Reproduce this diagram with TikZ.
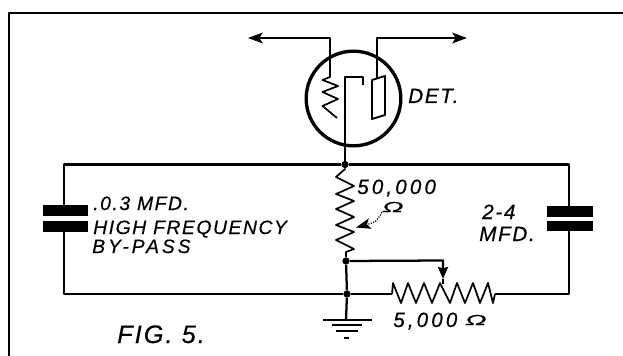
\documentclass[tikz,border=0pt]{standalone}
\usepackage{fontspec}
\usepackage{graphicx}
\setmainfont{Liberation Sans}
\newfontfamily\drawfont[LetterSpace=8,FakeBold=0.4]{Liberation Sans}
\newfontfamily\widefont[LetterSpace=15,FakeBold=0.4]{Liberation Sans}
\usetikzlibrary{arrows.meta}
\tikzset{
  px/.style={x=0.75pt,y=-0.75pt},
  wire/.style={line width=1.7pt,line join=round},
  thin wire/.style={line width=1.3pt,line join=round},
  plate/.style={fill=black,draw=none,minimum width=34pt,minimum height=8.2pt,inner sep=0pt},
  dot/.style={circle,fill=black,draw=none,minimum size=5.5pt,inner sep=0pt},
  lab/.style={inner sep=0pt,font=\drawfont\itshape\fontsize{14.5}{16}\selectfont,align=left,text=black},
  widelab/.style={lab,font=\widefont\itshape\fontsize{14.5}{16}\selectfont},
  numlab/.style={lab,font=\widefont\itshape\fontsize{15.5}{17}\selectfont},
  biglab/.style={lab,font=\drawfont\itshape\fontsize{15.5}{17}\selectfont},
  ohmlab/.style={lab,font=\drawfont\itshape\fontsize{15}{17}\selectfont},
  arrow/.style={-{Stealth[length=11pt,width=8pt,inset=2.5pt]}}
}
\newcommand{\ohmsign}{\scalebox{1.4}[0.72]{Ω}}
\begin{document}
\begin{tikzpicture}[px]
\useasboundingbox (0,0) rectangle (623,356);
\fill[white] (0,0) rectangle (623,356);
% frame
\coordinate (fbl) at (9,356); \coordinate (ftl) at (9,13); \coordinate (ftr) at (623,13);
\draw[line width=1.9pt,line join=round] (fbl) -- (ftl) -- (ftr);
% rectangle loop
\coordinate (tl) at (64,164.5); \coordinate (tr) at (569,164.5);
\coordinate (bl) at (64,294); \coordinate (br) at (569,294);
\node[plate] (c1a) at (65.5,210.5) {};
\node[plate] (c1b) at (65.5,226.5) {};
\node[plate] (c2a) at (570,211.5) {};
\node[plate] (c2b) at (570,226) {};
\node[dot] (top) at (345,164.5) {};
\node[dot] (mid) at (346,261) {};
\node[dot] (low) at (347,294) {};
\coordinate (r2l) at (392,294); \coordinate (r2r) at (495,294);
\draw[wire] (64,210) -- (tl) -- (top) -- (tr) -- (569,210);
\draw[wire] (64,226) -- (bl) -- (low) -- (r2l);
\draw[wire] (569,226) -- (br) -- (r2r);
% 5000 ohm resistor
\draw[thin wire] (r2l) -- (393,283) -- (401,303) -- (408,283) -- (416,303) -- (424,283) -- (432,303) -- (440,283) -- (450,303) -- (457,283) -- (465,303) -- (473,283) -- (480,303) -- (488,283) -- (493,303) -- (r2r);
% slider
\coordinate (tapend) at (443,279);
\draw[wire,-{Stealth[length=9pt,width=7.5pt,inset=1pt]}] (mid) -- (443,260.5) -- (tapend);
\draw[thin wire] (tapend) -- (443,284);
% 50000 resistor
\draw[thin wire] (top) -- (345,169) -- (336,177) -- (354,186) -- (336,194) -- (354,201) -- (336,209) -- (354,217) -- (336,225) -- (354,232) -- (336,240) -- (354,249) -- (346,252) -- (mid);
\draw[wire] (mid) -- (low);
% ground
\coordinate (gnd) at (346,320);
\draw[wire] (low) -- (gnd);
\draw[line width=1.8pt] (323,320) -- (372,320);
\draw[line width=1.2pt] (332,325) -- (362,325);
\draw[line width=1.2pt] (336,331) -- (358,331);
\draw[line width=1.6pt] (344,338) -- (349,338);
% tube
\node[circle,draw=black,line width=2.5pt,minimum size=71pt,inner sep=0pt] (tube) at (353.5,98.5) {};
\draw[wire] (top) -- (345,77) -- (363,77) -- (363,85);
\coordinate (la) at (248,38); \coordinate (ra) at (467,38);
\draw[wire,arrow] (330,60) -- (330,38) -- (la);
\draw[wire,arrow] (377,60) -- (377,38) -- (ra);
\draw[thin wire] (330,60) -- (330,77) -- (322.5,80) -- (338,86) -- (322.5,92) -- (338,99) -- (322.5,106) -- (337,118);
\draw[line width=1.4pt] (377,60) -- (377,78);
\draw[line width=1.4pt,line join=round] (372,80) -- (385,76) -- (385,115) -- (372,119) -- cycle;
% labels
\node[biglab,anchor=base west] (det) at (408,103) {DET.};
\node[lab,anchor=base west] (l1) at (93,210) {.0.3 MFD.};
\node[lab,anchor=base west] (l2) at (93,234) {HIGH FREQUENCY};
\node[widelab,anchor=base west] (l3) at (92,253) {BY-PASS};
\node[numlab,anchor=base west] (l4) at (357,194) {50,000};
\node[ohmlab,anchor=base west] (l5) at (382,212) {\ohmsign};
\node[biglab,anchor=base west] (l6) at (482,219) {2-4};
\node[biglab,anchor=base west] (l7) at (479,241) {MFD.};
\node[numlab,anchor=base west] (l8) at (393,327) {5,000};
\node[ohmlab,anchor=base west] (l9) at (465,325) {\ohmsign};
\node[lab,anchor=base west,font=\drawfont\itshape\fontsize{19}{21}\selectfont] (fig) at (117,343) {FIG. 5.};
\draw[densely dotted,line width=0.9pt,-{Stealth[length=11pt,width=8pt,inset=2.5pt]}] (l5.south west) .. controls (376,222) .. (356,227.5);
\end{tikzpicture}
\end{document}
